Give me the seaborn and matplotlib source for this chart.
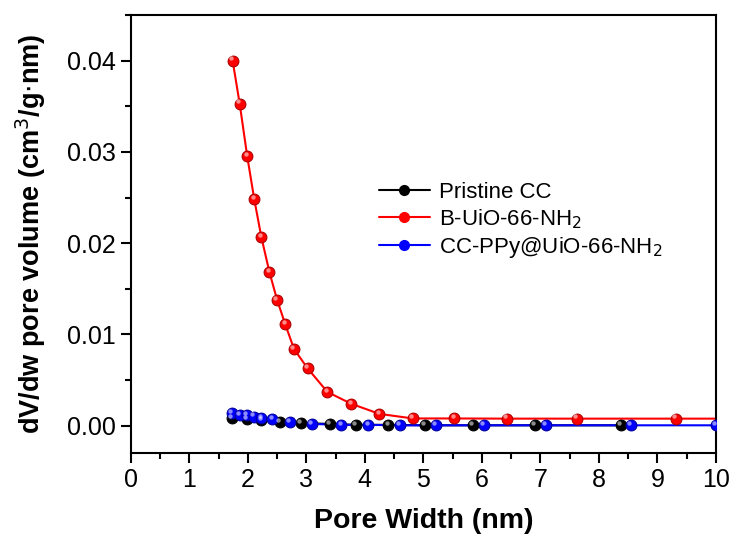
import numpy as np
import pandas as pd
import matplotlib
matplotlib.use("Agg")
import matplotlib.pyplot as plt
import seaborn as sns
from matplotlib.ticker import MultipleLocator

# values
pristine_x = [1.73, 1.98, 2.23, 2.55, 2.91, 3.40, 3.85, 4.40, 5.02, 5.84, 6.91, 8.37]
pristine_y = [0.0008, 0.0007, 0.0006, 0.0004, 0.0003, 0.0002, 0.0001, 0.0001, 0.00005, 0.00005, 0.00005, 0.00005]

buio_x = [1.74, 1.86, 1.99, 2.11, 2.23, 2.37, 2.50, 2.64, 2.79, 3.02, 3.36, 3.77, 4.25,
          4.82, 5.53, 6.43, 7.62, 9.31, 10.0]
buio_y = [0.0400, 0.0353, 0.0295, 0.0248, 0.0207, 0.0168, 0.0138, 0.0111, 0.0084, 0.0063,
          0.0037, 0.0024, 0.0013, 0.0008, 0.0008, 0.00078, 0.00078, 0.00078, 0.00078]
buio_marker = [True] * 18 + [False]

ccppy_x = [1.73, 1.86, 1.98, 2.10, 2.23, 2.42, 2.72, 3.10, 3.60, 4.06, 4.60, 5.22, 6.03,
           7.10, 8.55, 10.0]
ccppy_y = [0.0014, 0.0012, 0.0012, 0.0010, 0.0008, 0.0007, 0.0004, 0.0002, 0.0001, 0.0001,
           0.00005, 0.00005, 0.00005, 0.00005, 0.00005, 0.00005]

labels = ["Pristine CC", "B-UiO-66-NH$_2$", "CC-PPy@UiO-66-NH$_2$"]
colors = ["black", "red", "blue"]
edge_colors = ["#000000", "#b00000", "#0000a0"]

sns.set_style("ticks", {"axes.edgecolor": "black", "text.color": "black",
                        "xtick.color": "black", "ytick.color": "black",
                        "axes.labelcolor": "black"})
plt.rcParams["font.family"] = ["Liberation Sans", "DejaVu Sans"]

df = pd.concat([
    pd.DataFrame({"x": pristine_x, "y": pristine_y, "sample": labels[0]}),
    pd.DataFrame({"x": buio_x, "y": buio_y, "sample": labels[1]}),
    pd.DataFrame({"x": ccppy_x, "y": ccppy_y, "sample": labels[2]}),
])

fig = plt.figure(figsize=(7.35, 5.35), dpi=100)
ax = fig.add_axes([0.178, 0.153, 0.796, 0.819])

sns.lineplot(data=df, x="x", y="y", hue="sample", palette=dict(zip(labels, colors)),
             sort=False, estimator=None, linewidth=1.5, legend=False, ax=ax)

# sphere-like markers drawn on top
mask_sets = [[True] * len(pristine_x), buio_marker, [True] * len(ccppy_x)]
for lab, col, ec, m in zip(labels, colors, edge_colors, mask_sets):
    sub = df[df["sample"] == lab][m]
    ax.scatter(sub["x"], sub["y"], s=60, color=col, edgecolor=ec, linewidth=0.8, zorder=3)
    ax.scatter(sub["x"] - 0.03, sub["y"] + 0.00025, s=10, color="white", alpha=0.55,
               linewidth=0, zorder=4)

for lab, col in zip(labels, colors):
    ax.plot([], [], color=col, linewidth=1.5, marker="o", markersize=7,
            markeredgecolor=col, label=lab)

ax.set_xlim(0, 10)
ax.set_ylim(-0.003, 0.045)
ax.xaxis.set_major_locator(MultipleLocator(1))
ax.xaxis.set_minor_locator(MultipleLocator(0.5))
ax.yaxis.set_major_locator(MultipleLocator(0.01))
ax.yaxis.set_minor_locator(MultipleLocator(0.005))
ax.yaxis.set_major_formatter(matplotlib.ticker.FormatStrFormatter("%.2f"))

ax.tick_params(axis="both", which="major", direction="out", length=7, width=1.5,
               labelsize=18, top=False, right=False, colors="black")
ax.tick_params(axis="both", which="minor", direction="out", length=4, width=1.5,
               top=False, right=False, colors="black")
for s in ax.spines.values():
    s.set_linewidth(1.5)
    s.set_color("black")
    s.set_visible(True)

ax.set_xlabel("Pore Width (nm)", fontsize=20.5, fontweight="bold", labelpad=12)
ax.set_ylabel("dV/dw pore volume (cm$^3$/g$\\cdot$nm)", fontsize=19.5, fontweight="bold",
              labelpad=14)

ax.legend(loc="center left", bbox_to_anchor=(0.424, 0.530), frameon=False,
          fontsize=16, handlelength=2.3, handletextpad=0.4, labelspacing=0.2,
          borderpad=0, borderaxespad=0)

fig.savefig("out.png", dpi=100)
